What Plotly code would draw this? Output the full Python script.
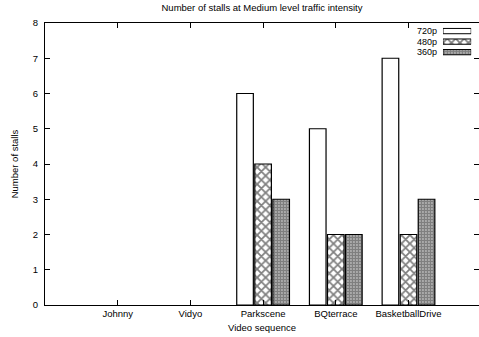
import plotly.graph_objects as go

# Stall counts per video sequence and resolution (medium traffic intensity)
sequences = ["Johnny", "Vidyo", "Parkscene", "BQterrace", "BasketballDrive"]
resolutions = ["720p", "480p", "360p"]
stalls_720p = [0, 0, 6, 5, 7]
stalls_480p = [0, 0, 4, 2, 2]
stalls_360p = [0, 0, 3, 2, 3]
y_ticks = [0, 1, 2, 3, 4, 5, 6, 7, 8]

series = [stalls_720p, stalls_480p, stalls_360p]
fills = [
    dict(color="white"),
    dict(color="white", pattern=dict(shape="x", size=6, solidity=0.5, fgcolor="black", bgcolor="white")),
    dict(color="white", pattern=dict(shape=".", size=3, solidity=0.8, fgcolor="black", bgcolor="white")),
]

FONT = "Liberation Sans, Arial, sans-serif"

fig = go.Figure()
for name, vals, fill in zip(resolutions, series, fills):
    # zero-height bars get no outline so the baseline stays clean
    outline = [1.2 if v > 0 else 0 for v in vals]
    fig.add_trace(go.Bar(
        x=sequences, y=vals, name=name,
        marker=dict(**fill, line=dict(color="black", width=outline)),
        showlegend=False,
    ))

# Key: sample boxes drawn on a small inset axis at the top right
for name, fill in zip(resolutions, fills):
    fig.add_trace(go.Bar(
        x=[1], y=[name], orientation="h", width=0.5,
        marker=dict(**fill, line=dict(color="black", width=1)),
        xaxis="x2", yaxis="y2", showlegend=False, hoverinfo="skip",
    ))
    fig.add_annotation(
        text=name, x=0.905, xref="paper", xanchor="right",
        y=name, yref="y2", yanchor="middle", showarrow=False,
        borderpad=0,
        font=dict(family=FONT, size=9, color="black"),
    )

fig.update_layout(
    width=479, height=337,
    margin=dict(l=45, r=0, t=23, b=32),
    paper_bgcolor="white", plot_bgcolor="white",
    barmode="group", bargap=0.255, bargroupgap=0.08,
    font=dict(family=FONT, size=9.5, color="black"),
    title=dict(text="Number of stalls at Medium level traffic intensity",
               x=0.5, xanchor="center", xref="paper", y=0.978, yanchor="middle",
               font=dict(family=FONT, size=9.5, color="black")),
    xaxis=dict(
        type="category", range=[-1, 4.97],
        showline=True, linecolor="black", linewidth=1, mirror="ticks",
        ticks="inside", ticklen=5, tickcolor="black",
        showgrid=False, zeroline=False,
        title=dict(text="Video sequence", standoff=5, font=dict(size=9.5)),
    ),
    yaxis=dict(
        range=[0, 8], tickvals=y_ticks,
        showline=True, linecolor="black", linewidth=1,
        ticks="inside", ticklen=5, tickcolor="black",
        ticklabelstandoff=4,
        showgrid=False, zeroline=False,
        title=dict(text="Number of stalls", standoff=12, font=dict(size=9.5)),
    ),
    yaxis3=dict(
        overlaying="y", side="right", matches="y", tickvals=y_ticks,
        showline=False, ticks="inside", ticklen=5, tickcolor="black",
        showticklabels=False, showgrid=False, zeroline=False,
    ),
    xaxis2=dict(domain=[0.917, 0.982], range=[0, 1], visible=False, fixedrange=True),
    yaxis2=dict(domain=[0.878, 0.99], range=[2.5, -0.5], type="category",
                categoryorder="array", categoryarray=resolutions,
                visible=False, anchor="x2", fixedrange=True),
)

# Empty trace that brings up the right-hand tick axis
fig.add_trace(go.Scatter(x=[None], y=[None], yaxis="y3", showlegend=False, hoverinfo="skip"))

fig.write_html("out.html")
